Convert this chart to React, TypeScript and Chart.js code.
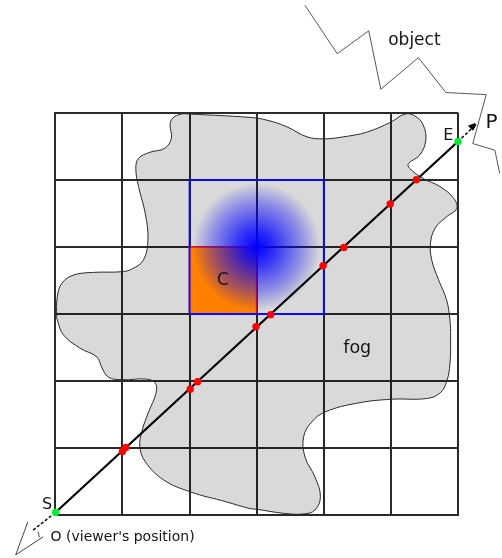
import React, { useEffect, useRef } from "react";
import { Chart, registerables } from "chart.js";

Chart.register(...registerables);

// One grid cell = 100 data units.
const gridTicks = [0, 100, 200, 300, 400, 500, 600];

const fogX = [201,188,175,171,173,163,141,124,120,124,134,138,131,114,99,57,27,10,3,2,3,12,37,62,69,79,99,136,149,150,139,129,126,134,161,201,255,290,300,340,370,387,395,387,372,370,382,402,449,501,553,573,583,588,589,588,583,571,561,559,566,583,598,594,573,548,528,526,543,552,548,536,521,500,464,429,400,375,345,315,290,201];
const fogY = [598,598,592,582,562,547,541,532,517,490,450,410,380,367,363,362,358,346,326,296,291,269,249,236,221,206,202,203,197,182,154,125,102,80,53,35,20,10,9,3,2,8,28,57,87,117,139,154,167,173,174,182,199,226,266,291,321,351,380,405,428,445,457,472,490,502,517,524,537,559,582,595,598,586,571,564,561,564,579,589,593,598];

const objectX = [372,420,467,485,541,582,642,622,655,662];
const objectY = [760,688,722,635,682,630,627,554,544,510];

const squareX = [200,400,400,200,200];
const squareY = [300,300,500,500,300];
const cellX = [200,300,300,200,200];
const cellY = [300,300,400,400,300];
const diskCentre = { x: 300, y: 400 };
const diskRadius = 95;
const diskStops = [0, 0.25, 0.5, 0.72, 1];
const diskAlphas = [1, 0.8, 0.55, 0.33, 0];

const rayX = [0.6,600];
const rayY = [4.5,557];
const viewerDashX = [-33,0.6];
const viewerDashY = [-22,4.5];
const exitDashX = [600,620];
const exitDashY = [557,576];
const arrowX = [626,622,618,626];
const arrowY = [583,576,580,583];

const wedgeX = [-41,-59,-18];
const wedgeY = [-10,-59,-32];
const arcX = [-33,-26,-24];
const arcY = [-19,-24,-33];

const crossingX = [538,499,430,399,321,299,212,201,105,100];
const crossingY = [500,464,399,372,299,281,199,188,101,95];
const endpointX = [0.6,600];
const endpointY = [4.5,557];

const labelTexts = ["object","fog","C","S","E","P","O (viewer's position)"];
const labelX = [496,429,241,-20,578,641,-7];
const labelY = [701,242,343,10,559,577,-39];
const labelSizes = [17,17.5,17,16,16,20,14];

const pts = (xs: number[], ys: number[]) => xs.map((x, i) => ({ x, y: ys[i] }));

const labelsPlugin = {
  id: "labels",
  afterDraw(chart: any) {
    const { ctx, scales } = chart;
    ctx.save();
    ctx.fillStyle = "#151515";
    ctx.textAlign = "left";
    ctx.textBaseline = "alphabetic";
    labelTexts.forEach((t, i) => {
      ctx.font = `${labelSizes[i]}px "DejaVu Sans"`;
      ctx.fillText(t, scales.x.getPixelForValue(labelX[i]), scales.y.getPixelForValue(labelY[i]));
    });
    ctx.restore();
  },
};

export default function App() {
  const ref = useRef<HTMLCanvasElement>(null);
  useEffect(() => {
    const line = { showLine: true, pointRadius: 0, clip: false as any, fill: false };
    const chart = new Chart(ref.current!, {
      type: "scatter",
      plugins: [labelsPlugin],
      data: {
        datasets: [
          { ...line, order: 9, data: pts(fogX, fogY), fill: "shape", tension: 0.4, backgroundColor: "rgba(0,0,0,0.15)", borderColor: "#2a2a2a", borderWidth: 1 },
          { ...line, order: 8, data: pts(objectX, objectY), borderColor: "#444", borderWidth: 0.9 },
          { ...line, order: 7, data: pts(cellX, cellY), fill: "shape", backgroundColor: "#ff8000", borderColor: "#d81818", borderWidth: 1.6 },
          {
            ...line, order: 6, data: pts(squareX, squareY), fill: "shape", borderColor: "#0a0aff", borderWidth: 1.8,
            backgroundColor: (c: any) => {
              const { x, y } = c.chart.scales;
              if (!x || !y) return "rgba(0,0,0,0)";
              const cx = x.getPixelForValue(diskCentre.x);
              const cy = y.getPixelForValue(diskCentre.y);
              const r = x.getPixelForValue(diskCentre.x + diskRadius) - cx;
              if (![cx, cy, r].every(Number.isFinite) || r <= 0) return "rgba(0,0,0,0)";
              const g = c.chart.ctx.createRadialGradient(cx, cy, 0, cx, cy, r);
              diskStops.forEach((s, i) => g.addColorStop(s, `rgba(0,0,255,${diskAlphas[i]})`));
              return g;
            },
          },
          { ...line, order: 5, data: pts(wedgeX, wedgeY), borderColor: "#444", borderWidth: 1 },
          { ...line, order: 5, data: pts(arcX, arcY), tension: 0.4, borderColor: "#444", borderWidth: 1 },
          { ...line, order: 4, data: pts(viewerDashX, viewerDashY), borderColor: "#111", borderWidth: 1.6, borderDash: [3, 2] },
          { ...line, order: 4, data: pts(exitDashX, exitDashY), borderColor: "#111", borderWidth: 1.6, borderDash: [3, 2] },
          { ...line, order: 3, data: pts(rayX, rayY), borderColor: "#000", borderWidth: 2.2 },
          { ...line, order: 2, data: pts(arrowX, arrowY), fill: "shape", backgroundColor: "#000", borderColor: "#000", borderWidth: 2.4 },
          { order: 1, clip: false as any, data: pts(crossingX, crossingY), pointRadius: 3.7, backgroundColor: "#ff0000", borderWidth: 0 } as any,
          { order: 1, clip: false as any, data: pts(endpointX, endpointY), pointRadius: 3.7, backgroundColor: "#00ee33", borderWidth: 0 } as any,
        ],
      },
      options: {
        animation: false,
        responsive: false,
        devicePixelRatio: 1,
        events: [],
        layout: { padding: { left: 55.3, right: 44, top: 112.7, bottom: 42.7 } },
        elements: { line: { capBezierPoints: false } },
        plugins: {
          legend: { display: false },
          tooltip: { enabled: false },
          filler: { propagate: false },
        },
        scales: {
          x: {
            type: "linear", min: 0, max: 600,
            afterBuildTicks: (s: any) => { s.ticks = gridTicks.map((value) => ({ value })); },
            ticks: { display: false },
            grid: { color: "#2a2a2a", lineWidth: 2, drawTicks: false },
            border: { color: "#2a2a2a", width: 2 },
          },
          y: {
            type: "linear", min: 0, max: 600,
            afterBuildTicks: (s: any) => { s.ticks = gridTicks.map((value) => ({ value })); },
            ticks: { display: false },
            grid: { color: "#2a2a2a", lineWidth: 2, drawTicks: false },
            border: { color: "#2a2a2a", width: 2 },
          },
        },
      } as any,
    });
    return () => chart.destroy();
  }, []);
  return (
    <div style={{ position: "absolute", left: 0, top: 0, width: 502, height: 558, background: "#fff" }}>
      <canvas ref={ref} width={502} height={558} style={{ display: "block" }} />
    </div>
  );
}
